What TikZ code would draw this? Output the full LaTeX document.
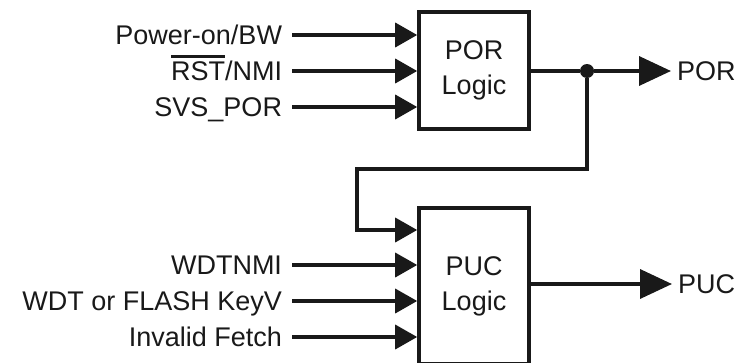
\documentclass[tikz,border=0pt]{standalone}
\usepackage{fontspec}
\setmainfont{Liberation Sans}
\usetikzlibrary{arrows.meta}

% bar over a word (active-low signal)
\newcommand{\lowactive}[1]{\begingroup\setbox0\hbox{#1}%
  \rlap{\rule[\dimexpr\ht0+4pt\relax]{\wd0}{3pt}}\box0\endgroup}

\tikzset{
  wire/.style={line width=3.6pt, draw=black!90},
  inarrow/.style={wire, -{Triangle[length=22pt,width=24pt]}},
  outarrow/.style={wire, -{Triangle[length=32pt,width=29pt]}},
  logicbox/.style={draw=black!90, line width=3.6pt, minimum width=110pt,
    align=center, font=\fontsize{27}{35}\selectfont, text=black!90},
  sig/.style={font=\fontsize{27}{32}\selectfont, text=black!90,
    text height=19pt, text depth=0pt, inner xsep=5pt, outer xsep=5pt,
    inner ysep=0pt},
  junction/.style={circle, fill=black!90, inner sep=0pt, minimum size=14pt},
}

\begin{document}
\begin{tikzpicture}[x=1pt, y=-1pt]
  \useasboundingbox (0,0) rectangle (750,362);

  % logic blocks
  \node[logicbox, minimum height=117pt] (por) at (474,70.5) {POR\\Logic};
  \node[logicbox, minimum height=156pt] (puc) at (474,286) {PUC\\Logic};

  % POR inputs
  \node[sig, anchor=east] (pwr) at (292,35)  {Power-on/BW};
  \node[sig, anchor=east] (rst) at (292,71)  {\lowactive{RST}/NMI};
  \node[sig, anchor=east] (svs) at (292,107) {SVS\_POR};
  \foreach \s in {pwr,rst,svs}
    \draw[inarrow] (\s.east) -- (\s.east -| por.west);

  % PUC inputs
  \node[sig, anchor=east] (wdt) at (292,265) {WDTNMI};
  \node[sig, anchor=east] (key) at (292,301) {WDT or FLASH KeyV};
  \node[sig, anchor=east] (ftc) at (292,337) {Invalid Fetch};
  \foreach \s in {wdt,key,ftc}
    \draw[inarrow] (\s.east) -- (\s.east -| puc.west);

  % POR output with branch into PUC logic
  \node[junction] (jn) at (587,71) {};
  \coordinate (porend) at (671,71);
  \node[sig, anchor=west, outer xsep=0pt, inner xsep=0pt] (porout) at (677,71) {POR};
  \draw[wire] (por.east |- jn) -- (jn);
  \draw[outarrow] (jn) -- (porend);

  \coordinate (fb1) at (357,169);
  \coordinate (fb2) at (357,230);
  \draw[inarrow] (jn) |- (fb1) -- (fb2) -- (fb2 -| puc.west);

  % PUC output
  \coordinate (pucend) at (672,284);
  \node[sig, anchor=west, outer xsep=0pt, inner xsep=0pt] (pucout) at (678,284) {PUC};
  \draw[outarrow] (puc.east |- pucend) -- (pucend);
\end{tikzpicture}
\end{document}
